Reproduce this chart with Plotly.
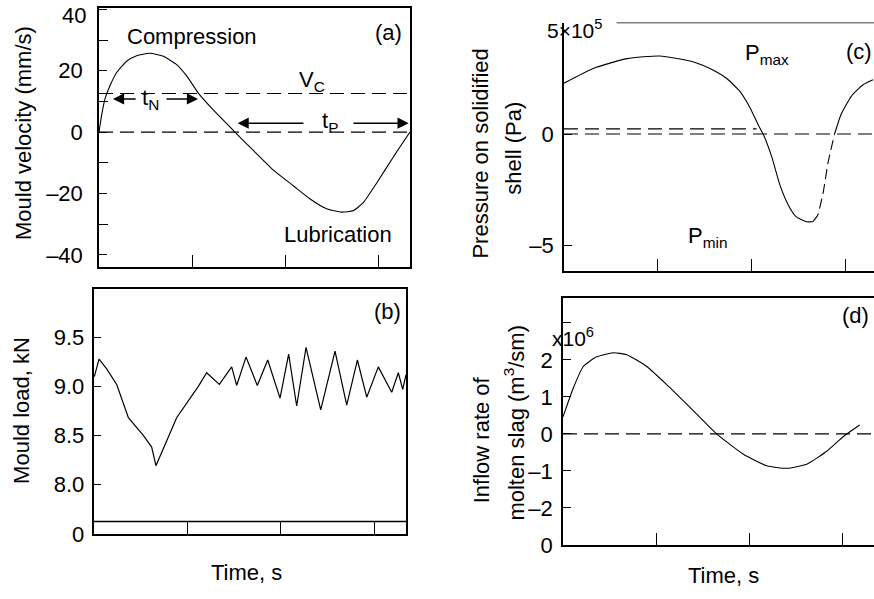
import plotly.graph_objects as go

W, H = 874, 599
FONT = "Liberation Sans, Arial, sans-serif"

# ---------------- data ----------------
# (a) mould velocity
A_T = [0.0, 0.029, 0.065, 0.118, 0.19, 0.297, 0.405, 0.548, 0.692, 0.835, 0.943, 1.068,
       1.229, 1.462, 1.659, 1.875, 2.09, 2.27, 2.448, 2.609, 2.735, 2.842, 2.986, 3.165, 3.344]
A_V = [0, 5.6, 10.9, 15.1, 19.4, 23.1, 24.9, 25.7, 24.7, 22.0, 18.3, 12.7,
       7.2, 0, -6.0, -12.4, -17.5, -21.8, -25.0, -26.1, -25.6, -23.0, -16.6, -8.1, 0]
VC_LEVEL = 12.6
A_YTICKS = [-40, -20, 0, 20, 40]
A_YTEXT = ["\u201340", "\u201320", "0", "20", ""]
A_TOP_LABEL = "40"
A_YMINOR = [-30, -10, 10, 30]
TN_LEVEL = 10.8
TP_LEVEL = 2.9

# (b) mould load
B_T = [0.009, 0.059, 0.141, 0.248, 0.373, 0.533, 0.622, 0.668, 0.889, 1.121, 1.210, 1.346,
       1.478, 1.531, 1.631, 1.752, 1.863, 1.995, 2.087, 2.173, 2.273, 2.430, 2.583, 2.708,
       2.822, 2.922, 3.046, 3.189, 3.260, 3.307, 3.342]
B_L = [9.10, 9.28, 9.18, 9.02, 8.68, 8.50, 8.38, 8.19, 8.68, 9.00, 9.14, 9.02,
       9.20, 9.01, 9.30, 9.01, 9.27, 8.88, 9.33, 8.80, 9.40, 8.76, 9.36, 8.81,
       9.27, 8.89, 9.20, 8.94, 9.14, 8.97, 9.12]
B_YTICKS = [7.49, 8.0, 8.5, 9.0, 9.5]
B_YTEXT = ["0", "8.0", "8.5", "9.0", "9.5"]
B_BREAK = 7.62

# (c) pressure on solidified shell (x1e5 Pa)
C_T = [0, 0.31, 0.67, 1.02, 1.38, 1.59, 1.73, 1.87, 1.98, 2.07, 2.12, 2.21, 2.30, 2.39,
       2.47, 2.58, 2.65, 2.70, 2.76, 2.81, 2.88, 2.95, 3.06, 3.18, 3.29]
C_P = [2.28, 2.94, 3.38, 3.5, 3.23, 2.86, 2.5, 1.92, 1.18, 0.39, 0.0, -1.0, -2.3, -3.2,
       -3.7, -3.93, -3.93, -3.64, -2.6, -1.3, 0.0, 0.89, 1.7, 2.2, 2.43]
C_DASH_FROM, C_DASH_TO = 2.65, 2.88
C_PMAX = 5.0
C_UPPER_DASH = 0.23
C_UPPER_DASH_END = 2.05
C_YTICKS = [-5, 0, 5]
C_YTEXT = ["\u20135", "0", ""]

# (d) inflow rate of molten slag (x1e6)
D_T = [0, 0.111, 0.218, 0.362, 0.541, 0.685, 0.90, 1.115, 1.40, 1.652, 1.94, 2.19,
       2.405, 2.62, 2.835, 3.015, 3.19]
D_Q = [0.46, 1.24, 1.82, 2.08, 2.19, 2.14, 1.82, 1.33, 0.63, 0.0, -0.55, -0.86,
       -0.93, -0.82, -0.47, -0.07, 0.24]
D_YTICKS = [-3, -2, -1, 0, 1, 2, 3]
D_YTEXT = ["0", "\u20132", "\u20131", "0", "1", "2", ""]

X_TICKS = [1, 2, 3]

# ---------------- helpers ----------------
def px(x):
    return x / W

def py(y):
    return 1 - y / H

DASH = "14px,7px"
fig = go.Figure()

# (a)
fig.add_trace(go.Scatter(x=A_T, y=A_V, mode="lines", line=dict(color="black", width=1.1, shape="spline", smoothing=0.5),
                         xaxis="x", yaxis="y", showlegend=False, hoverinfo="skip"))
# (b)
fig.add_trace(go.Scatter(x=B_T, y=B_L, mode="lines", line=dict(color="black", width=1.2),
                         xaxis="x2", yaxis="y2", showlegend=False, hoverinfo="skip"))
# (c) split solid / dashed
seg1 = [(t, p) for t, p in zip(C_T, C_P) if t <= C_DASH_FROM]
segd = [(t, p) for t, p in zip(C_T, C_P) if C_DASH_FROM <= t <= C_DASH_TO]
seg2 = [(t, p) for t, p in zip(C_T, C_P) if t >= C_DASH_TO]
for seg, dash in ((seg1, "solid"), (segd, "10px,5px"), (seg2, "solid")):
    fig.add_trace(go.Scatter(x=[s[0] for s in seg], y=[s[1] for s in seg], mode="lines",
                             line=dict(color="black", width=1.1, shape="spline", smoothing=0.5, dash=dash),
                             xaxis="x3", yaxis="y3", showlegend=False, hoverinfo="skip"))
# (d)
fig.add_trace(go.Scatter(x=D_T, y=D_Q, mode="lines", line=dict(color="black", width=1.1, shape="spline", smoothing=0.5),
                         xaxis="x4", yaxis="y4", showlegend=False, hoverinfo="skip"))

tickfont = dict(family=FONT, size=22, color="black")
common_x = dict(showline=True, linecolor="black", linewidth=1.5, ticks="inside", tickcolor="black",
                tickwidth=1.3, ticklen=12, tickvals=X_TICKS, showticklabels=False, showgrid=False,
                zeroline=False, fixedrange=True)
common_y = dict(showline=True, linecolor="black", linewidth=1.5, ticks="inside", tickcolor="black",
                tickwidth=1.3, ticklen=8, showgrid=False, zeroline=False, tickfont=tickfont, fixedrange=True,
                ticklabelstandoff=6)

fig.update_layout(
    width=W, height=H, margin=dict(l=0, r=0, t=0, b=0),
    paper_bgcolor="white", plot_bgcolor="white",
    font=dict(family=FONT, size=22, color="black"),
    xaxis=dict(common_x, domain=[px(99), px(410)], range=[0, 3.344], anchor="y", mirror=True),
    yaxis=dict(common_y, domain=[py(273), py(8)], range=[-44, 40.5], anchor="x", mirror=True,
               tickvals=A_YTICKS, ticktext=A_YTEXT, ticklabelstandoff=10,
               minor=dict(tickvals=A_YMINOR, ticks="inside", ticklen=9, tickcolor="black", tickwidth=1.3)),
    xaxis2=dict(common_x, domain=[px(93.5), px(406)], range=[0, 3.342], anchor="y2", mirror=True, ticklen=13),
    yaxis2=dict(common_y, domain=[py(546), py(295)], range=[7.49, 10.0], anchor="x2", mirror=True,
                tickvals=B_YTICKS, ticktext=B_YTEXT, ticklabelstandoff=3),
    xaxis3=dict(common_x, domain=[px(564), 1.0], range=[0, 3.30], anchor="y3"),
    yaxis3=dict(common_y, domain=[py(277), py(23)], range=[-6.14, 5.0], anchor="x3",
                tickvals=C_YTICKS, ticktext=C_YTEXT, ticklabelstandoff=4),
    xaxis4=dict(common_x, domain=[px(563), 1.0], range=[0, 3.344], anchor="y4", mirror=True),
    yaxis4=dict(common_y, domain=[py(557), py(305)], range=[-3.0, 3.66], anchor="x4",
                tickvals=D_YTICKS, ticktext=D_YTEXT, ticklabelstandoff=4),
)

shapes = []
# (a) dashed reference lines
for lvl in (VC_LEVEL, 0):
    shapes.append(dict(type="line", xref="x domain", yref="y", x0=0, x1=1, y0=lvl, y1=lvl,
                       line=dict(color="black", width=1.1, dash=DASH)))
# (b) axis break line
shapes.append(dict(type="line", xref="x2 domain", yref="y2", x0=0, x1=1, y0=B_BREAK, y1=B_BREAK,
                   line=dict(color="black", width=1.4)))
# (c) lines
shapes.append(dict(type="line", xref="x3", yref="y3", x0=0.56, x1=3.30, y0=C_PMAX, y1=C_PMAX,
                   line=dict(color="black", width=1.5)))
shapes.append(dict(type="line", xref="x3 domain", yref="y3", x0=0, x1=1, y0=0, y1=0,
                   line=dict(color="black", width=1.1, dash=DASH)))
shapes.append(dict(type="line", xref="x3", yref="y3", x0=0, x1=C_UPPER_DASH_END, y0=C_UPPER_DASH, y1=C_UPPER_DASH,
                   line=dict(color="black", width=1.1, dash=DASH)))
# (d) zero line
shapes.append(dict(type="line", xref="x4 domain", yref="y4", x0=0, x1=1, y0=0, y1=0,
                   line=dict(color="black", width=1.1, dash=DASH)))
fig.update_layout(shapes=shapes)

ann = []
def txt(text, x, y, xref, yref, size=22, angle=0, xanchor="center"):
    ann.append(dict(text=text, x=x, y=y, xref=xref, yref=yref, showarrow=False, textangle=angle,
                    font=dict(family=FONT, size=size, color="black"), xanchor=xanchor, yanchor="middle"))

def arrow(x_head, x_tail, y, xref, yref):
    ann.append(dict(text="", x=x_head, y=y, ax=x_tail, ay=y, xref=xref, yref=yref, axref=xref, ayref=yref,
                    showarrow=True, arrowhead=2, arrowsize=1.6, arrowwidth=1.4, arrowcolor="black"))

# panel (a) texts
txt(A_TOP_LABEL, px(88), py(16), "paper", "paper", size=22, xanchor="right")
txt("Compression", 1.0, 31, "x", "y")
txt("Lubrication", 2.57, -33.5, "x", "y")
txt("(a)", 3.11, 32.5, "x", "y")
txt("V<sub>C</sub>", 2.29, 16.5, "x", "y")
txt("t<sub>N</sub>", 0.55, TN_LEVEL, "x", "y")
txt("t<sub>P</sub>", 2.48, TP_LEVEL + 0.5, "x", "y")
arrow(0.15, 0.41, TN_LEVEL, "x", "y")
arrow(1.065, 0.71, TN_LEVEL, "x", "y")
arrow(1.49, 2.215, TP_LEVEL, "x", "y")
arrow(3.33, 2.72, TP_LEVEL, "x", "y")
# panel (b)
txt("(b)", 3.14, 9.77, "x2", "y2")
# panel (c)
txt("P<sub>max</sub>", 2.16, 3.6, "x3", "y3")
txt("P<sub>min</sub>", 1.53, -4.6, "x3", "y3")
txt("(c)", 3.14, 3.68, "x3", "y3")
txt("5\u00d710<sup>5</sup>", px(574), py(30), "paper", "paper", size=21)
# panel (d)
txt("(d)", 3.14, 3.2, "x4", "y4")
txt("x10<sup>6</sup>", px(573), py(344), "paper", "paper", size=21)

# axis titles
txt("Mould velocity (mm/s)", px(23), py(136), "paper", "paper", angle=-90)
txt("Mould load, kN", px(22), py(420), "paper", "paper", angle=-90)
txt("Time, s", px(247), py(585), "paper", "paper")
txt("Pressure on solidified", px(481), py(157), "paper", "paper", angle=-90)
txt("shell (Pa)", px(514), py(152), "paper", "paper", angle=-90)
txt("Inflow rate of", px(481), py(449), "paper", "paper", angle=-90)
txt("molten slag (m<sup>3</sup>/sm)", px(514), py(432), "paper", "paper", angle=-90)
txt("Time, s", px(723), py(588), "paper", "paper")

fig.update_layout(annotations=ann)
fig.write_html("out.html", config={"displayModeBar": False},
               post_script="document.body.style.margin='0px';document.body.style.overflow='hidden';")
